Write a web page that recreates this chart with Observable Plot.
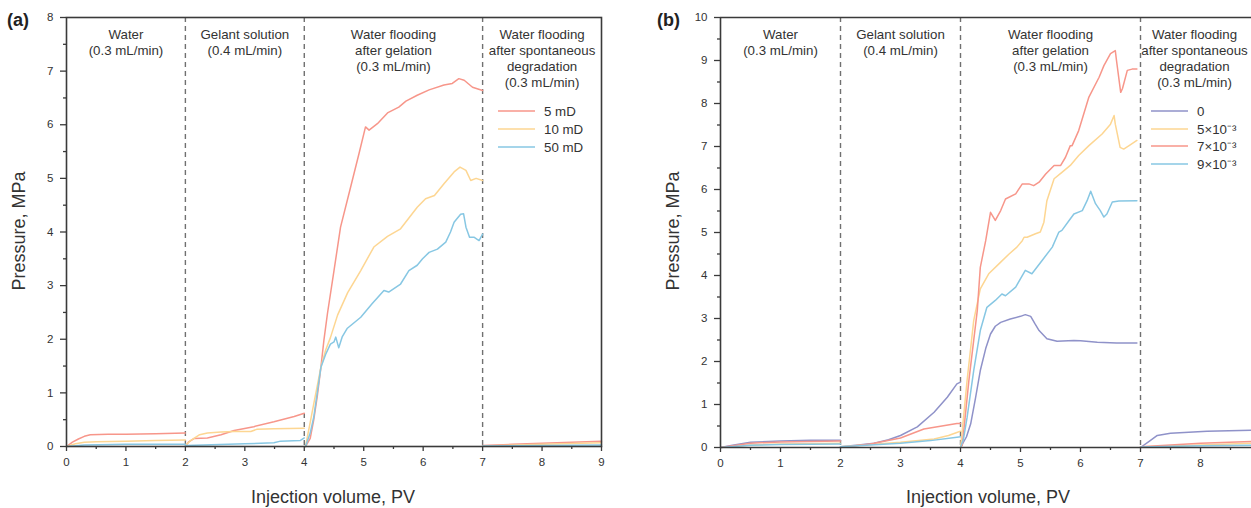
<!DOCTYPE html>
<html>
<head>
<meta charset="utf-8">
<script src="https://cdn.jsdelivr.net/npm/d3@7"></script>
<script src="https://cdn.jsdelivr.net/npm/@observablehq/plot@0.6"></script>
<style>
  body { margin: 0; background: #fff; font-family: "Liberation Sans", Arial, sans-serif; }
  #wrap { position: relative; width: 1251px; height: 508px; overflow: hidden; background: #fff; }
  .panel { position: absolute; top: 0; }
  .tag { position: absolute; font-weight: bold; font-size: 18px; color: #222; line-height: 1; }
  .ytitle { position: absolute; font-size: 18px; color: #333; white-space: nowrap; transform: translate(-50%, -50%) rotate(-90deg); line-height: 1; }
  .xtitle { position: absolute; font-size: 18px; color: #333; white-space: nowrap; transform: translate(-50%, -50%); line-height: 1; }
  .leg { position: absolute; display: flex; align-items: center; height: 16px; font-size: 13.3px; color: #333; white-space: nowrap; }
  .leg svg { margin-right: 9px; display: block; }
</style>
</head>
<body>
<div id="wrap"></div>
<script>
// ---------------- DATA ----------------
// Panel (a): permeability series, each split into the four injection stages
const aLabels = ["5 mD", "10 mD", "50 mD"];
const aColors = ["#f7968a", "#fdd692", "#87c7e3"];
const a5mD = [
  [[0,0],[0.1,0.08],[0.2,0.14],[0.3,0.19],[0.4,0.22],[0.7,0.23],[1.0,0.23],[1.5,0.24],[2.0,0.25]],
  [[2.0,0],[2.05,0.08],[2.15,0.15],[2.37,0.16],[2.6,0.22],[2.82,0.3],[3.15,0.37],[3.49,0.46],[3.83,0.56],[4.0,0.62]],
  [[4.02,0],[4.1,0.15],[4.16,0.5],[4.22,0.95],[4.28,1.48],[4.33,1.98],[4.39,2.48],[4.5,3.28],[4.61,4.09],[4.78,4.84],[4.92,5.46],[5.03,5.96],[5.09,5.9],[5.23,6.02],[5.4,6.22],[5.59,6.33],[5.71,6.44],[5.9,6.55],[6.1,6.65],[6.35,6.74],[6.49,6.77],[6.6,6.86],[6.69,6.83],[6.83,6.7],[7.0,6.64]],
  [[7.0,0.02],[7.5,0.04],[8.0,0.06],[8.5,0.08],[9.0,0.1]]
];
const a10mD = [
  [[0,0],[0.15,0.05],[0.3,0.08],[0.5,0.09],[1.0,0.1],[1.5,0.11],[2.0,0.12]],
  [[2.0,0.02],[2.1,0.12],[2.24,0.22],[2.37,0.25],[2.6,0.27],[2.82,0.28],[3.1,0.28],[3.2,0.32],[3.49,0.33],[4.0,0.34]],
  [[4.02,0],[4.1,0.45],[4.16,0.8],[4.28,1.48],[4.36,1.8],[4.44,2.03],[4.56,2.45],[4.73,2.87],[4.95,3.28],[5.17,3.72],[5.4,3.92],[5.62,4.06],[5.9,4.46],[6.04,4.62],[6.19,4.68],[6.35,4.9],[6.52,5.12],[6.62,5.21],[6.72,5.15],[6.8,4.96],[6.89,5.0],[7.0,4.96]],
  [[7.0,0.01],[8.0,0.04],[9.0,0.07]]
];
const a50mD = [
  [[0,0],[0.3,0.03],[1.0,0.04],[2.0,0.04]],
  [[2.0,0.02],[2.3,0.03],[3.0,0.05],[3.49,0.07],[3.6,0.1],[3.93,0.11],[4.0,0.16]],
  [[4.02,0],[4.1,0.25],[4.16,0.55],[4.28,1.48],[4.36,1.72],[4.44,1.91],[4.5,1.95],[4.53,2.04],[4.58,1.84],[4.64,2.05],[4.72,2.2],[4.95,2.41],[5.14,2.66],[5.34,2.91],[5.42,2.88],[5.62,3.03],[5.76,3.28],[5.9,3.38],[5.99,3.5],[6.1,3.62],[6.24,3.68],[6.38,3.81],[6.46,4.0],[6.52,4.18],[6.63,4.33],[6.68,4.34],[6.72,4.09],[6.78,3.9],[6.86,3.9],[6.94,3.84],[7.0,3.96]],
  [[7.0,0.01],[8.0,0.02],[9.0,0.03]]
];

// Panel (b): concentration series
const bLabels = ["0", "5×10⁻³", "7×10⁻³", "9×10⁻³"];
const bColors = ["#8f92c9", "#fdd692", "#f7968a", "#87c7e3"];
const b0 = [
  [[0,0],[0.2,0.05],[0.5,0.12],[1.0,0.15],[1.5,0.17],[2.0,0.17]],
  [[2.0,0.02],[2.3,0.06],[2.56,0.1],[2.8,0.18],[3.0,0.28],[3.28,0.48],[3.56,0.82],[3.78,1.17],[3.94,1.48],[4.0,1.52]],
  [[4.0,0],[4.1,0.25],[4.17,0.55],[4.25,1.15],[4.33,1.79],[4.42,2.3],[4.5,2.64],[4.58,2.82],[4.67,2.91],[4.83,2.99],[5.0,3.05],[5.08,3.09],[5.17,3.05],[5.24,2.88],[5.31,2.72],[5.44,2.53],[5.61,2.47],[5.89,2.49],[6.0,2.48],[6.28,2.45],[6.6,2.43],[6.94,2.43]],
  [[7.0,0],[7.15,0.15],[7.28,0.28],[7.5,0.33],[8.11,0.38],[8.85,0.4]]
];
const b5e3 = [
  [[0,0],[0.5,0.06],[1.0,0.08],[2.0,0.1]],
  [[2.0,0.02],[2.5,0.07],[3.0,0.12],[3.56,0.2],[3.8,0.28],[3.94,0.35],[4.0,0.38]],
  [[4.0,0],[4.03,0.4],[4.11,1.56],[4.22,2.95],[4.33,3.69],[4.47,4.04],[4.64,4.27],[4.81,4.5],[4.94,4.66],[5.03,4.81],[5.06,4.89],[5.11,4.89],[5.25,4.97],[5.33,5.01],[5.39,5.24],[5.44,5.74],[5.56,6.25],[5.69,6.4],[5.83,6.56],[5.97,6.79],[6.14,7.02],[6.36,7.29],[6.5,7.52],[6.56,7.72],[6.58,7.52],[6.66,6.98],[6.72,6.94],[6.81,7.02],[6.94,7.14]],
  [[7.0,0.01],[8.0,0.06],[8.85,0.1]]
];
const b7e3 = [
  [[0,0],[0.5,0.1],[1.0,0.13],[2.0,0.15]],
  [[2.0,0],[2.5,0.08],[3.0,0.22],[3.39,0.43],[3.94,0.56],[4.0,0.56]],
  [[4.0,0],[4.03,0.05],[4.14,1.56],[4.22,2.49],[4.28,3.19],[4.33,4.19],[4.42,4.81],[4.5,5.47],[4.58,5.28],[4.67,5.51],[4.75,5.78],[4.92,5.9],[5.03,6.13],[5.14,6.13],[5.22,6.09],[5.31,6.17],[5.42,6.36],[5.56,6.56],[5.67,6.56],[5.75,6.75],[5.83,7.02],[5.86,7.02],[5.97,7.37],[6.14,8.15],[6.31,8.61],[6.39,8.88],[6.5,9.16],[6.58,9.23],[6.6,9.0],[6.67,8.26],[6.7,8.35],[6.78,8.77],[6.86,8.8],[6.94,8.8]],
  [[7.0,0.02],[8.0,0.1],[8.85,0.14]]
];
const b9e3 = [
  [[0,0],[0.5,0.05],[1.0,0.07],[2.0,0.08]],
  [[2.0,0.02],[2.5,0.06],[3.0,0.1],[3.5,0.16],[3.94,0.24],[4.0,0.25]],
  [[4.0,0],[4.05,0.2],[4.11,0.7],[4.22,1.79],[4.33,2.72],[4.44,3.26],[4.58,3.42],[4.69,3.57],[4.75,3.53],[4.92,3.73],[5.08,4.12],[5.19,4.04],[5.36,4.35],[5.53,4.66],[5.64,5.01],[5.69,5.05],[5.81,5.28],[5.89,5.43],[6.03,5.51],[6.11,5.74],[6.17,5.96],[6.25,5.67],[6.33,5.51],[6.39,5.36],[6.44,5.43],[6.53,5.71],[6.64,5.73],[6.94,5.74]],
  [[7.0,0.01],[8.0,0.04],[8.85,0.05]]
];

const stageBounds = [2, 4, 7];
const stageX = [1, 3, 5.5, 8];
const stageText = [
  "Water\n(0.3 mL/min)",
  "Gelant solution\n(0.4 mL/min)",
  "Water flooding\nafter gelation\n(0.3 mL/min)",
  "Water flooding\nafter spontaneous\ndegradation\n(0.3 mL/min)"
];
const xMajor = [0,1,2,3,4,5,6,7,8,9];
const xMinor = [0.5,1.5,2.5,3.5,4.5,5.5,6.5,7.5,8.5];
const aYMajor = [0,1,2,3,4,5,6,7,8];
const aYMinor = [0.5,1.5,2.5,3.5,4.5,5.5,6.5,7.5];
const bYMajor = [0,1,2,3,4,5,6,7,8,9,10];
const bYMinor = [0.5,1.5,2.5,3.5,4.5,5.5,6.5,7.5,8.5,9.5];
const xTitle = "Injection volume, PV";
const yTitle = "Pressure, MPa";

// ---------------- DRAW ----------------
const AX = "#3a3a3a";
const FONT = "'Liberation Sans', Arial, sans-serif";
function rows(series) {
  return series.flatMap((stage, i) => stage.map(([x, y]) => ({x, y, stage: i})));
}
function makePanel({series, colors, yMax, yMajor, yMinor, xMax, width, marginLeft, marginRight, marginBottom, fullFrame, lastDx}) {
  const xMaj = xMajor.filter(d => d <= xMax), xMin = xMinor.filter(d => d <= xMax);
  const notes = stageX.map((x, i) => ({x, t: stageText[i], dx: i === 3 ? lastDx : 0}));
  const marks = [
    Plot.ruleX(stageBounds, {stroke: "#707070", strokeWidth: 1.4, strokeDasharray: "5,4"}),
    ...series.map((s, i) => Plot.line(rows(s), {x: "x", y: "y", z: "stage", stroke: colors[i], strokeWidth: 1.5, curve: "linear"})),
    Plot.text(notes.slice(0, 3), {x: "x", text: "t", frameAnchor: "top", lineAnchor: "top", dy: 10, fontSize: 13.3, lineHeight: 1.2, fill: "#333"}),
    Plot.text(notes.slice(3), {x: "x", text: "t", frameAnchor: "top", lineAnchor: "top", dy: 10, dx: lastDx, fontSize: 13.3, lineHeight: 1.2, fill: "#333"}),
    Plot.axisX(xMaj, {tickSize: 5, tickPadding: 6, fontSize: 11.5, stroke: AX, strokeWidth: 1.3, fill: "#333", label: null, tickFormat: d => String(d)}),
    Plot.axisX(xMin, {tickSize: 3, stroke: AX, strokeWidth: 1.3, label: null, tickFormat: () => ""}),
    Plot.axisY(yMajor, {tickSize: 6, tickPadding: 7, fontSize: 11.5, stroke: AX, strokeWidth: 1.3, fill: "#333", label: null, tickFormat: d => String(d)}),
    Plot.axisY(yMinor, {tickSize: 3, stroke: AX, strokeWidth: 1.3, label: null, tickFormat: () => ""}),
  ];
  if (fullFrame) marks.push(Plot.frame({stroke: AX, strokeWidth: 1.6}));
  else marks.push(Plot.ruleX([0], {stroke: AX, strokeWidth: 1.6}), Plot.ruleY([0, yMax], {stroke: AX, strokeWidth: 1.6}));
  return Plot.plot({
    width, height: 508,
    marginLeft, marginRight, marginTop: 17, marginBottom,
    x: {domain: [0, xMax], label: null},
    y: {domain: [0, yMax], label: null},
    style: {fontFamily: FONT, fontSize: "11.5px", color: "#333", background: "transparent", overflow: "visible"},
    marks
  });
}

const wrap = document.getElementById("wrap");
const pa = makePanel({series: [a5mD, a10mD, a50mD], colors: aColors, yMax: 8, yMajor: aYMajor, yMinor: aYMinor, xMax: 9, width: 615, marginLeft: 66, marginRight: 14, marginBottom: 62, fullFrame: true, lastDx: 0});
pa.classList.add("panel"); pa.style.left = "0px";
wrap.appendChild(pa);
const pb = makePanel({series: [b0, b5e3, b7e3, b9e3], colors: bColors, yMax: 10, yMajor: bYMajor, yMinor: bYMinor, xMax: 8.85, width: 636, marginLeft: 105, marginRight: 0, marginBottom: 61, fullFrame: false, lastDx: -6});
pb.classList.add("panel"); pb.style.left = "615px";
wrap.appendChild(pb);

function addDiv(cls, text, left, top) {
  const d = document.createElement("div");
  d.className = cls; d.textContent = text;
  d.style.left = left + "px"; d.style.top = top + "px";
  wrap.appendChild(d);
  return d;
}
addDiv("tag", "(a)", 7, 11);
addDiv("tag", "(b)", 657, 11);
addDiv("ytitle", yTitle, 19, 231);
addDiv("ytitle", yTitle, 673, 231);
addDiv("xtitle", xTitle, 333, 497);
addDiv("xtitle", xTitle, 988, 497);

const SVGNS = "http://www.w3.org/2000/svg";
function legend(labels, colors, left, tops) {
  labels.forEach((l, i) => {
    const d = document.createElement("div");
    d.className = "leg";
    d.style.left = left + "px"; d.style.top = (tops[i] - 8) + "px";
    const s = document.createElementNS(SVGNS, "svg");
    s.setAttribute("width", "37"); s.setAttribute("height", "16");
    const ln = document.createElementNS(SVGNS, "line");
    ln.setAttribute("x1", "0"); ln.setAttribute("x2", "37");
    ln.setAttribute("y1", "8"); ln.setAttribute("y2", "8");
    ln.setAttribute("stroke", colors[i]); ln.setAttribute("stroke-width", "1.6");
    s.appendChild(ln);
    d.appendChild(s);
    d.appendChild(document.createTextNode(l));
    wrap.appendChild(d);
  });
}
legend(aLabels, aColors, 498, [111, 129, 147]);
legend(bLabels, bColors, 1151, [111, 128.5, 146, 163.5]);
</script>
</body>
</html>
